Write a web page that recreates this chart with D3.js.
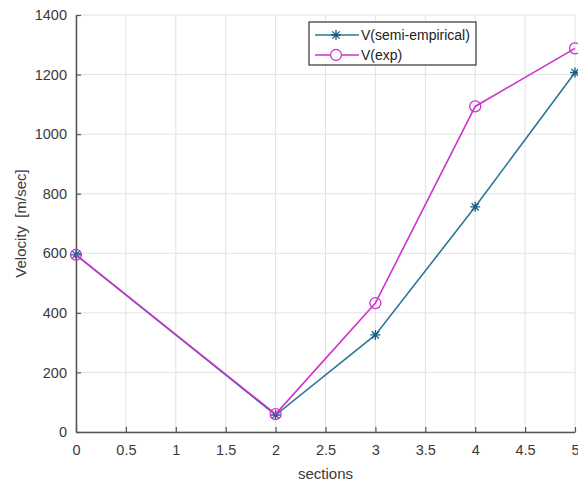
<!DOCTYPE html>
<html>
<head>
<meta charset="utf-8">
<script src="https://cdn.jsdelivr.net/npm/d3@7"></script>
<style>
  body { margin: 0; background: #fff; }
  text { font-family: "Liberation Sans", Arial, sans-serif; }
</style>
</head>
<body>
<svg id="graph" width="578" height="486"></svg>
<script>
'use strict'

var sections = [0, 2, 3, 4, 5];
var vSemi = [595, 57, 326, 756, 1207];
var vExp = [595, 60, 433, 1093, 1288];
var xTicks = [0, 0.5, 1, 1.5, 2, 2.5, 3, 3.5, 4, 4.5, 5];
var yTicks = [0, 200, 400, 600, 800, 1000, 1200, 1400];
var seriesNames = ['V(semi-empirical)', 'V(exp)'];

var plotLeft = 76, plotRight = 575, plotTop = 15, plotBottom = 432;
var semiColor = '#2a7896', semiMark = '#1a5d85';
var expColor = '#cc33cc';
var axisColor = '#555';
var textColor = '#3a3a3a';

var svg = d3.select('#graph');
var x = d3.scaleLinear().domain([0, 5]).range([plotLeft, plotRight]);
var y = d3.scaleLinear().domain([0, 1400]).range([plotBottom, plotTop]);

// grid
svg.append('g').selectAll('line').data(xTicks).enter().append('line')
	.attr('x1', d => x(d)).attr('x2', d => x(d))
	.attr('y1', plotTop).attr('y2', plotBottom)
	.attr('stroke', '#e2e2e2').attr('stroke-width', 1);
svg.append('g').selectAll('line').data(yTicks).enter().append('line')
	.attr('x1', plotLeft).attr('x2', plotRight)
	.attr('y1', d => y(d)).attr('y2', d => y(d))
	.attr('stroke', '#e2e2e2').attr('stroke-width', 1);

// axes
var xAxis = svg.append('g').attr('transform', 'translate(0,' + plotBottom + ')')
	.call(d3.axisBottom(x).tickValues(xTicks).tickSizeInner(-5).tickSizeOuter(0).tickPadding(13).tickFormat(d3.format('')));
var yAxis = svg.append('g').attr('transform', 'translate(' + plotLeft + ',0)')
	.call(d3.axisLeft(y).tickValues(yTicks).tickSizeInner(-5).tickSizeOuter(0).tickPadding(9).tickFormat(d3.format('')));
[xAxis, yAxis].forEach(function(a){
	a.select('.domain').attr('stroke', axisColor).attr('stroke-width', 1.5);
	a.selectAll('.tick line').attr('stroke', axisColor).attr('stroke-width', 1.2);
	a.selectAll('.tick text').attr('fill', textColor).style('font-size', '14.5px');
});

svg.append('text').attr('x', (plotLeft + plotRight) / 2).attr('y', 479)
	.attr('text-anchor', 'middle').attr('fill', textColor).style('font-size', '15px')
	.text('sections');
svg.append('text').attr('transform', 'translate(26,' + ((plotTop + plotBottom) / 2) + ') rotate(-90)')
	.attr('text-anchor', 'middle').attr('fill', textColor).style('font-size', '15px')
	.attr('xml:space', 'preserve')
	.text('Velocity  [m/sec]');

var line = d3.line().x(d => x(d[0])).y(d => y(d[1]));
var semiPts = sections.map((s, i) => [s, vSemi[i]]);
var expPts = sections.map((s, i) => [s, vExp[i]]);

function star(g, cx, cy, r, color){
	var s = r * 0.72;
	g.append('path')
		.attr('d', 'M' + (cx - r) + ',' + cy + 'H' + (cx + r) + 'M' + cx + ',' + (cy - r) + 'V' + (cy + r) +
			'M' + (cx - s) + ',' + (cy - s) + 'L' + (cx + s) + ',' + (cy + s) +
			'M' + (cx - s) + ',' + (cy + s) + 'L' + (cx + s) + ',' + (cy - s))
		.attr('stroke', color).attr('stroke-width', 1.3).attr('fill', 'none');
}

svg.append('path').datum(semiPts).attr('d', line)
	.attr('fill', 'none').attr('stroke', semiColor).attr('stroke-width', 1.6);
var semiG = svg.append('g');
semiPts.forEach(function(p){ star(semiG, x(p[0]), y(p[1]), 5, semiMark); });

svg.append('path').datum(expPts).attr('d', line)
	.attr('fill', 'none').attr('stroke', expColor).attr('stroke-width', 1.6);
svg.append('g').selectAll('circle').data(expPts).enter().append('circle')
	.attr('cx', d => x(d[0])).attr('cy', d => y(d[1])).attr('r', 5.5)
	.attr('fill', 'none').attr('stroke', expColor).attr('stroke-width', 1.3);

// legend
var leg = svg.append('g');
leg.append('rect').attr('x', 309).attr('y', 22).attr('width', 167).attr('height', 43)
	.attr('fill', '#fff').attr('stroke', '#333').attr('stroke-width', 1.2);
var rows = [{c: semiColor, m: 'star', yy: 35}, {c: expColor, m: 'circle', yy: 55}];
rows.forEach(function(r, i){
	leg.append('line').attr('x1', 315).attr('x2', 359).attr('y1', r.yy).attr('y2', r.yy)
		.attr('stroke', r.c).attr('stroke-width', 1.6);
	if(r.m == 'star')
		star(leg, 336, r.yy, 5, semiMark);
	else
		leg.append('circle').attr('cx', 336).attr('cy', r.yy).attr('r', 5.5)
			.attr('fill', '#fff').attr('stroke', expColor).attr('stroke-width', 1.3);
	leg.append('text').attr('x', 361).attr('y', r.yy + 5).attr('fill', '#222')
		.style('font-size', '14px').text(seriesNames[i]);
});
</script>
</body>
</html>
